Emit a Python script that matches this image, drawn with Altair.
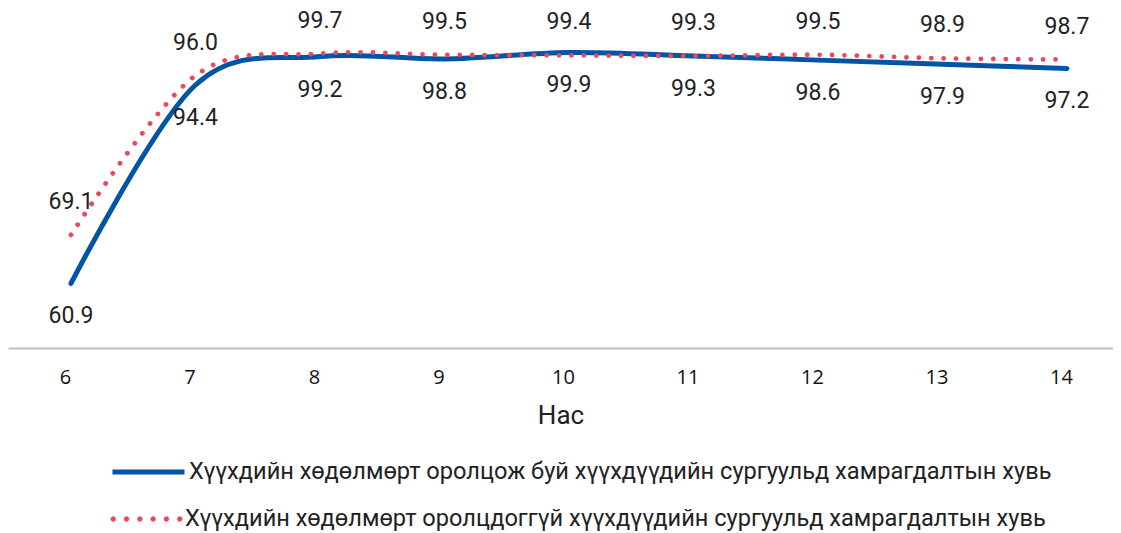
import altair as alt
import pandas as pd

# ---- data ----
ages = [6, 7, 8, 9, 10, 11, 12, 13, 14]
working = [60.9, 94.4, 99.2, 98.8, 99.9, 99.3, 98.6, 97.9, 97.2]
not_working = [69.1, 96.0, 99.7, 99.5, 99.4, 99.3, 99.5, 98.9, 98.7]
series_names = [
    "Хүүхдийн хөдөлмөрт оролцож буй хүүхдүүдийн сургуульд хамрагдалтын хувь",
    "Хүүхдийн хөдөлмөрт оролцдоггүй хүүхдүүдийн сургуульд хамрагдалтын хувь",
]
colors = ["#0254a4", "#e9495c"]
x_title = "Нас"

df_a = pd.DataFrame({"age": ages, "value": working, "series": series_names[0]})
df_b = pd.DataFrame({"age": ages, "value": not_working, "series": series_names[1]})

FONT = "Roboto"
TXT = "#222222"

x_enc = alt.X(
    "age:Q",
    scale=alt.Scale(domain=[5.494, 14.37], nice=False, zero=False),
    axis=alt.Axis(
        values=ages, title=x_title, grid=False, ticks=False, tickSize=0,
        domainColor="#bfbfbf", domainWidth=2, format="d",
        labelFont="Open Sans", labelFontSize=20, labelColor="#111111", labelPadding=19,
        labelFlush=False, labelOffset=-6,
        titleFont=FONT, titleFontSize=26, titleFontWeight="normal",
        titleColor=TXT, titlePadding=15,
    ),
)
y_enc = alt.Y("value:Q", scale=alt.Scale(domain=[50, 107.4], nice=False, zero=False), axis=None)

# custom dotted legend symbol (filled small circles along a horizontal line)
r = 0.068
dot_centres = [-0.9236, -0.5542, -0.1847, 0.1847, 0.5542, 0.9236]
dots_path = " ".join(
    f"M{c - r:.4f},0 a{r},{r} 0 1,0 {2 * r:.4f},0 a{r},{r} 0 1,0 {-2 * r:.4f},0 Z" for c in dot_centres
)

common_legend = dict(
    title=None, orient="none", direction="vertical", padding=0,
    labelFont=FONT, labelFontSize=23.6, labelColor=TXT, labelLimit=2000,
    labelOffset=2, symbolSize=5184, clipHeight=26, legendX=102,
)

line_a = alt.Chart(df_a).mark_line(
    strokeWidth=5, strokeCap="round", interpolate="cardinal", tension=0
).encode(
    x=x_enc, y=y_enc,
    color=alt.Color(
        "series:N",
        scale=alt.Scale(domain=[series_names[0]], range=[colors[0]]),
        legend=alt.Legend(symbolType="stroke", symbolStrokeWidth=5, legendY=451, **common_legend),
    ),
)

line_b = alt.Chart(df_b).mark_line(
    strokeWidth=4.8, strokeCap="round", strokeDash=[0.01, 12.4], interpolate="cardinal", tension=0
).encode(
    x=x_enc, y=y_enc,
    color=alt.Color(
        "series:N",
        scale=alt.Scale(domain=[series_names[1]], range=[colors[1]]),
        legend=alt.Legend(symbolType=dots_path, symbolStrokeWidth=0.5,
                          symbolFillColor=colors[1], legendY=498, **common_legend),
    ),
)

text_a = alt.Chart(df_a).mark_text(
    font=FONT, fontSize=23, color=TXT, dy=33, baseline="middle", align="center"
).encode(x=x_enc, y=y_enc, text=alt.Text("value:Q", format=".1f"))

text_b = alt.Chart(df_b).mark_text(
    font=FONT, fontSize=23, color=TXT, dy=-33, baseline="middle", align="center"
).encode(x=x_enc, y=y_enc, text=alt.Text("value:Q", format=".1f"))

chart = alt.layer(line_a, line_b, text_a, text_b).resolve_scale(
    color="independent"
).resolve_legend(color="independent").properties(
    width=1105, height=340, padding=0, background="white"
).configure_view(stroke="transparent", strokeWidth=0)

chart.save("out.html", embed_options={"renderer": "svg", "actions": False})
